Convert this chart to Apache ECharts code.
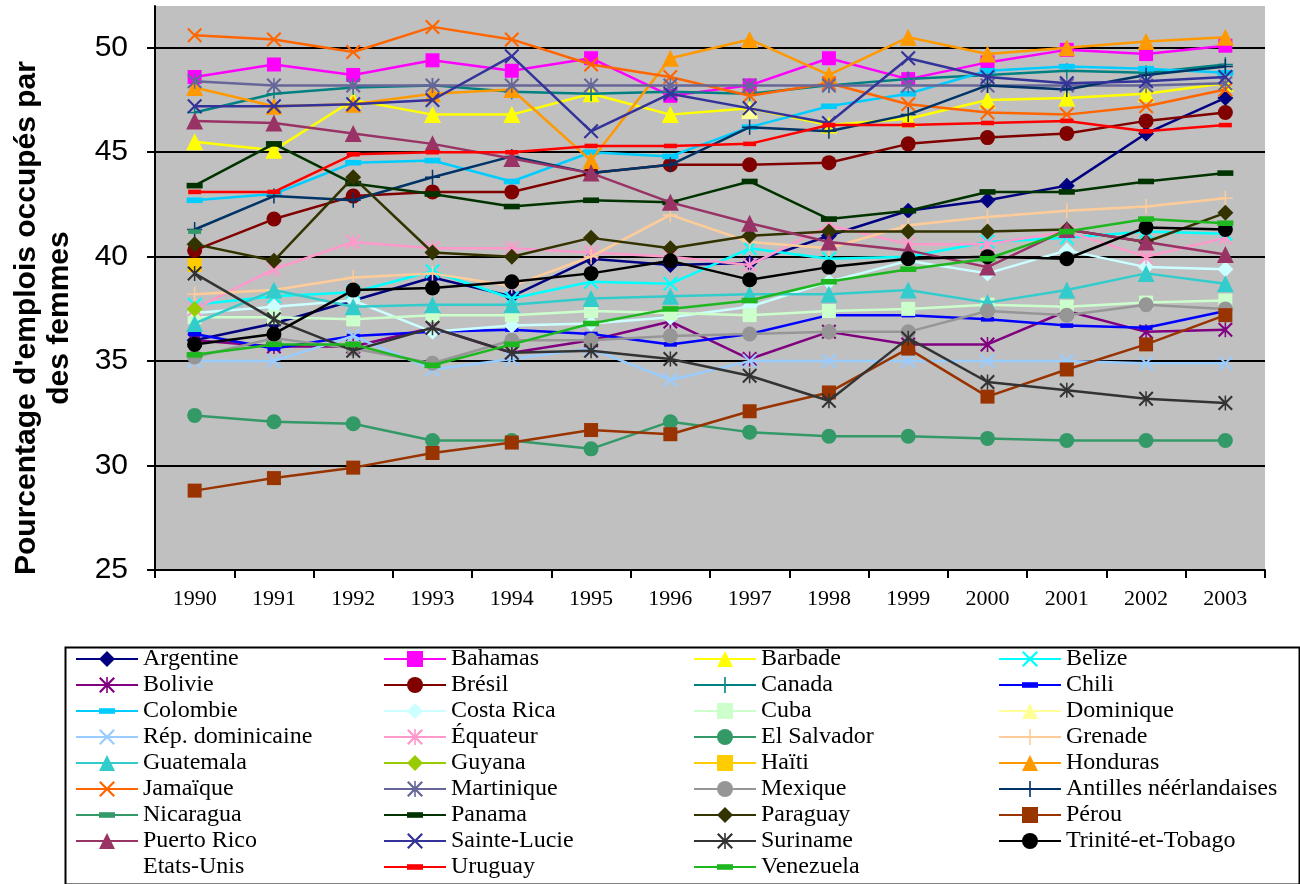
<!DOCTYPE html>
<html>
<head>
<meta charset="utf-8">
<script src="https://cdn.jsdelivr.net/npm/echarts@6/dist/echarts.min.js"></script>
<style>
  html, body { margin: 0; padding: 0; background: #ffffff; }
  #chart { width: 1300px; height: 884px; }
</style>
</head>
<body>
<div id="chart"></div>
<script>
// Years on the category axis
const years = ['1990', '1991', '1992', '1993', '1994', '1995', '1996',
               '1997', '1998', '1999', '2000', '2001', '2002', '2003'];
// Value-axis tick labels
const yTicks = [25, 30, 35, 40, 45, 50];

// Share of jobs held by women (%), one array per country, 1990-2003
const argentine  = [36.0, 36.8, 37.9, 39.0, 38.1, 39.9, 39.6, 39.7, 41.0, 42.2, 42.7, 43.4, 45.9, 47.6];
const bahamas    = [48.6, 49.2, 48.7, 49.4, 48.9, 49.5, 47.7, 48.2, 49.5, 48.5, 49.3, 49.9, 49.7, 50.1];
const barbade    = [45.5, 45.1, 47.5, 46.8, 46.8, 47.8, 46.8, 47.1, 46.3, 46.6, 47.5, 47.6, 47.8, 48.3];
const belize     = [37.7, 38.1, 38.3, 39.3, 38.0, 38.8, 38.7, 40.4, 39.9, 40.0, 40.7, 40.9, 41.2, 41.1];
const bolivie    = [36.0, 35.7, 35.7, 36.6, 35.4, 36.0, 36.9, 35.1, 36.4, 35.8, 35.8, 37.4, 36.4, 36.5];
const bresil     = [40.3, 41.8, 42.9, 43.1, 43.1, 44.0, 44.4, 44.4, 44.5, 45.4, 45.7, 45.9, 46.5, 46.9];
const canada     = [46.9, 47.8, 48.1, 48.2, 47.9, 47.8, 47.9, 47.8, 48.2, 48.5, 48.7, 48.9, 48.8, 49.2];
const chili      = [36.3, 35.6, 36.2, 36.4, 36.5, 36.3, 35.8, 36.3, 37.2, 37.2, 37.0, 36.7, 36.6, 37.4];
const colombie   = [42.7, 43.0, 44.5, 44.6, 43.6, 45.0, 44.8, 46.2, 47.2, 47.8, 48.9, 49.1, 49.0, 48.8];
const costaRica  = [37.3, 37.6, 37.9, 36.4, 36.7, 36.8, 37.1, 37.6, 38.8, 39.8, 39.2, 40.3, 39.5, 39.4];
const cuba       = [37.1, 37.1, 37.0, 37.2, 37.2, 37.4, 37.3, 37.2, 37.4, 37.5, 37.7, 37.6, 37.8, 37.9];
const dominique  = [null, null, null, null, null, null, null, 47.0, null, null, null, null, null, null];
const repDom     = [35.0, 35.0, 36.2, 34.6, 35.1, 35.6, 34.1, 35.0, 35.0, 35.0, 35.0, 35.0, 34.9, 34.9];
const equateur   = [37.5, 39.4, 40.7, 40.4, 40.4, 40.2, 40.0, 39.6, 41.5, 40.6, 40.6, 41.2, 40.0, 40.9];
const elSalvador = [32.4, 32.1, 32.0, 31.2, 31.2, 30.8, 32.1, 31.6, 31.4, 31.4, 31.3, 31.2, 31.2, 31.2];
const grenade    = [38.2, 38.4, 39.0, 39.2, 38.6, 40.0, 42.0, 40.7, 40.4, 41.5, 41.9, 42.2, 42.4, 42.8];
const guatemala  = [36.8, 38.4, 37.6, 37.7, 37.7, 38.0, 38.1, 38.2, 38.2, 38.4, 37.8, 38.4, 39.2, 38.7];
const guyana     = [37.5, null, null, null, null, null, null, null, null, null, null, null, null, null];
const haiti      = [39.6, null, null, null, null, null, null, null, null, null, null, null, null, null];
const honduras   = [48.1, 47.2, 47.3, 47.8, 48.0, 44.6, 49.5, 50.4, 48.7, 50.5, 49.7, 50.0, 50.3, 50.5];
const jamaique   = [50.6, 50.4, 49.8, 51.0, 50.4, 49.2, 48.6, 47.7, 48.3, 47.3, 46.9, 46.8, 47.2, 48.0];
const martinique = [48.4, 48.2, 48.2, 48.2, 48.2, 48.2, 48.2, 48.2, 48.2, 48.2, 48.2, 48.2, 48.2, 48.3];
const mexique    = [35.2, 36.1, 35.6, 34.9, 36.0, 36.0, 36.2, 36.3, 36.4, 36.4, 37.4, 37.2, 37.7, 37.5];
const antilles   = [41.3, 42.9, 42.7, 43.8, 44.8, 44.0, 44.4, 46.2, 46.0, 46.8, 48.2, 48.0, 48.7, 49.1];
const nicaragua  = [41.2, null, null, null, null, null, null, null, null, null, null, null, null, null];
const panama     = [43.4, 45.4, 43.5, 43.0, 42.4, 42.7, 42.6, 43.6, 41.8, 42.2, 43.1, 43.1, 43.6, 44.0];
const paraguay   = [40.6, 39.8, 43.8, 40.2, 40.0, 40.9, 40.4, 41.0, 41.2, 41.2, 41.2, 41.3, 40.7, 42.1];
const perou      = [28.8, 29.4, 29.9, 30.6, 31.1, 31.7, 31.5, 32.6, 33.5, 35.6, 33.3, 34.6, 35.8, 37.2];
const puertoRico = [46.5, 46.4, 45.9, 45.4, 44.7, 44.0, 42.6, 41.6, 40.7, 40.3, 39.5, 41.3, 40.7, 40.1];
const sainteLucie= [47.2, 47.2, 47.3, 47.5, 49.6, 46.0, 47.8, 47.1, 46.4, 49.5, 48.6, 48.3, 48.4, 48.6];
const suriname   = [39.2, 37.0, 35.5, 36.6, 35.4, 35.5, 35.1, 34.3, 33.1, 36.1, 34.0, 33.6, 33.2, 33.0];
const trinite    = [35.8, 36.3, 38.4, 38.5, 38.8, 39.2, 39.8, 38.9, 39.5, 39.9, 40.0, 39.9, 41.4, 41.3];
const etatsUnis  = [null, null, null, null, null, null, null, null, null, null, null, null, null, null];
const uruguay    = [43.1, 43.1, 44.9, 45.0, 45.0, 45.3, 45.3, 45.4, 46.3, 46.3, 46.4, 46.5, 46.0, 46.3];
const venezuela  = [35.3, 35.8, 35.8, 34.8, 35.8, 36.8, 37.5, 37.9, 38.8, 39.4, 39.9, 41.2, 41.8, 41.6];

// Marker shapes (asterisk, cross, plus and dash drawn as filled paths;
// the dash keeps a square bounding box so it stays flat in the legend too)
const MARK = {
  diamond: 'diamond',
  square: 'rect',
  triangle: 'triangle',
  circle: 'circle',
  cross: 'path://M0,2L2,0L10,8L18,0L20,2L12,10L20,18L18,20L10,12L2,20L0,18L8,10Z',
  star: 'path://M0,2L2,0L10,8L18,0L20,2L12,10L20,18L18,20L10,12L2,20L0,18L8,10Z M9,0L11,0L11,20L9,20Z',
  plus: 'path://M9,0L11,0L11,9L20,9L20,11L11,11L11,20L9,20L9,11L0,11L0,9L9,9Z',
  dash: 'path://M0,0M20,20M0,6.5L20,6.5L20,13.5L0,13.5Z',
  none: 'none'
};

// name, values, colour, marker, marker size
const countries = [
  ['Argentine', argentine, '#000080', 'diamond', 16],
  ['Bahamas', bahamas, '#FF00FF', 'square', 14],
  ['Barbade', barbade, '#FFFF00', 'triangle', 17],
  ['Belize', belize, '#00FFFF', 'cross', 15],
  ['Bolivie', bolivie, '#800080', 'star', 15],
  ['Brésil', bresil, '#800000', 'circle', 15],
  ['Canada', canada, '#008080', 'plus', 15],
  ['Chili', chili, '#0000FF', 'dash', 13],
  ['Colombie', colombie, '#00CCFF', 'dash', 16],
  ['Costa Rica', costaRica, '#CCFFFF', 'diamond', 16],
  ['Cuba', cuba, '#CCFFCC', 'square', 14],
  ['Dominique', dominique, '#FFFF99', 'triangle', 17],
  ['Rép. dominicaine', repDom, '#99CCFF', 'cross', 15],
  ['Équateur', equateur, '#FF99CC', 'star', 15],
  ['El Salvador', elSalvador, '#339966', 'circle', 15],
  ['Grenade', grenade, '#FFCC99', 'plus', 15],
  ['Guatemala', guatemala, '#33CCCC', 'triangle', 17],
  ['Guyana', guyana, '#99CC00', 'diamond', 16],
  ['Haïti', haiti, '#FFCC00', 'square', 14],
  ['Honduras', honduras, '#FF9900', 'triangle', 17],
  ['Jamaïque', jamaique, '#FF6600', 'cross', 15],
  ['Martinique', martinique, '#666699', 'star', 15],
  ['Mexique', mexique, '#969696', 'circle', 15],
  ['Antilles néérlandaises', antilles, '#003366', 'plus', 15],
  ['Nicaragua', nicaragua, '#339966', 'dash', 13],
  ['Panama', panama, '#003300', 'dash', 16],
  ['Paraguay', paraguay, '#333300', 'diamond', 16],
  ['Pérou', perou, '#993300', 'square', 14],
  ['Puerto Rico', puertoRico, '#993366', 'triangle', 17],
  ['Sainte-Lucie', sainteLucie, '#333399', 'cross', 15],
  ['Suriname', suriname, '#333333', 'star', 15],
  ['Trinité-et-Tobago', trinite, '#000000', 'circle', 15],
  ['Etats-Unis', etatsUnis, 'rgba(0,0,0,0)', 'none', 14],
  ['Uruguay', uruguay, '#FF0000', 'dash', 13],
  ['Venezuela', venezuela, '#1FB71F', 'dash', 16]
];

const series = countries.map(([name, values, color, mark, size], i) => ({
  name: name,
  type: 'line',
  data: values,
  z: 2 + i,
  symbol: MARK[mark],
  symbolSize: size,
  showSymbol: true,
  showAllSymbol: true,
  connectNulls: false,
  silent: true,
  emphasis: { disabled: true },
  itemStyle: { color: color, borderWidth: 0 },
  lineStyle: { color: color, width: 2.5 }
}));

// Legend laid out as four columns, filled row by row
const colLeft = [75, 383, 693, 998];
const legends = colLeft.map((left, c) => ({
  orient: 'vertical',
  left: left,
  top: 647,
  height: 300,
  padding: 0,
  itemWidth: 62,
  itemHeight: 20,
  itemGap: 2,
  selectedMode: false,
  data: countries.filter((d, i) => i % 4 === c).map(d => d[0]),
  textStyle: { fontFamily: 'Liberation Serif', fontSize: 24, lineHeight: 22, color: '#000000' }
}));

const chart = echarts.init(document.getElementById('chart'), null, { renderer: 'canvas' });
chart.setOption({
  animation: false,
  backgroundColor: '#ffffff',
  grid: {
    left: 155, right: 35, top: 6, bottom: 314,
    outerBoundsMode: 'none',
    containLabel: false,
    show: true, backgroundColor: '#C0C0C0', borderWidth: 0
  },
  xAxis: {
    type: 'category',
    data: years,
    boundaryGap: true,
    axisLine: { lineStyle: { color: '#000000', width: 2 } },
    axisTick: { show: true, length: 8, lineStyle: { color: '#000000', width: 2 } },
    axisLabel: { interval: 0, fontFamily: 'Liberation Serif', fontSize: 22, color: '#000000', margin: 18 }
  },
  yAxis: {
    type: 'value',
    min: 25, max: 52, interval: 5,
    name: "Pourcentage d'emplois occupés par\ndes femmes",
    nameLocation: 'middle',
    nameRotate: 90,
    nameGap: 79,
    nameTextStyle: {
      fontFamily: 'Liberation Sans', fontWeight: 'bold', fontSize: 30, lineHeight: 33,
      color: '#000000', padding: [0, 60, 0, 0]
    },
    axisLine: { show: true, lineStyle: { color: '#000000', width: 2 } },
    axisTick: { show: true, length: 8, lineStyle: { color: '#000000', width: 2 }, customValues: yTicks },
    axisLabel: {
      fontFamily: 'Liberation Sans', fontSize: 30, color: '#000000', margin: 27,
      customValues: yTicks
    },
    splitLine: { show: true, showMinLine: false, lineStyle: { color: '#000000', width: 2 } }
  },
  legend: legends,
  graphic: [{
    type: 'rect',
    left: 63, top: 645, z: 0,
    shape: { width: 1234, height: 237 },
    style: { fill: 'none', stroke: '#000000', lineWidth: 2 }
  }],
  series: series
});
</script>
</body>
</html>
